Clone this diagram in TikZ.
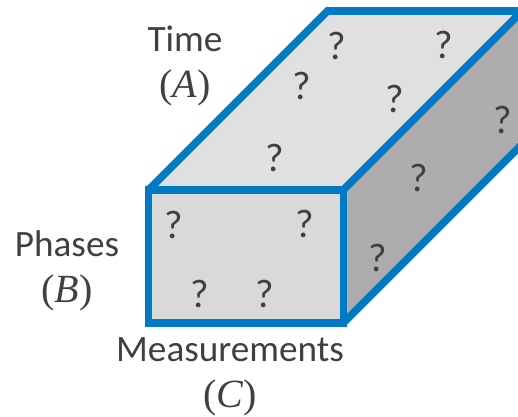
\documentclass[tikz,border=0pt]{standalone}
\usepackage{fontspec}
\setmainfont{Carlito}
\newfontfamily\mathlike{Liberation Serif}
\definecolor{edgeblue}{HTML}{007AC3}
\definecolor{topgray}{HTML}{E0E0E0}
\definecolor{frontgray}{HTML}{D9D9D9}
\definecolor{sidegray}{HTML}{ADADAD}
\definecolor{txt}{HTML}{404040}
\newcommand{\mv}[1]{{\fontsize{40}{46}\selectfont\mathlike(\textit{#1})}}
\tikzset{
 px/.style={x=1pt,y=-1pt},
 edgeline/.style={draw=edgeblue,line width=7.6pt,line join=miter},
 qmark/.style={text=txt,font=\fontsize{40}{40}\selectfont,inner sep=0pt},
 lab/.style={text=txt,font=\fontsize{37.2}{46}\selectfont,align=center,inner sep=0pt}
}
\begin{document}
\begin{tikzpicture}[px]
\useasboundingbox (0,0) rectangle (518,416);
\begin{scope}
\clip (0,0) rectangle (518,416);
\coordinate (A) at (148.5,190);
\coordinate (B) at (343.3,190);
\coordinate (C) at (343.3,323);
\coordinate (D) at (148.5,323);
\coordinate (E) at (327.5,11);
\coordinate (F) at (522.3,11);
\coordinate (G) at (522.3,144);
\fill[sidegray] (B) -- (F) -- (G) -- (C) -- cycle;
\fill[topgray] (A) -- (E) -- (F) -- (B) -- cycle;
\fill[frontgray] (A) rectangle (C);
\draw[edgeline] (A) -- (E) -- (F);
\draw[edgeline] (B) -- (F);
\draw[edgeline] (C) -- (G);
\draw[edgeline] (A) -- (B) -- (C) -- (D) -- cycle;
\end{scope}
\foreach \n/\x/\y in {q1/337/46,q2/444/45,q3/302/86,q4/395/99,q5/503/120,q6/275/158,q7/419/178,q8/174/225,q9/305/224,q10/378/258,q11/200/294,q12/265/294}
 \node[qmark] (\n) at (\x,\y) {?};
\node[lab] (time) at (185,66) {Time\\\mv{A}};
\node[lab] (phases) at (67,271) {Phases\\\mv{B}};
\node[lab] (meas) at (230,377) {Measurements\\\mv{C}};
\end{tikzpicture}
\end{document}
